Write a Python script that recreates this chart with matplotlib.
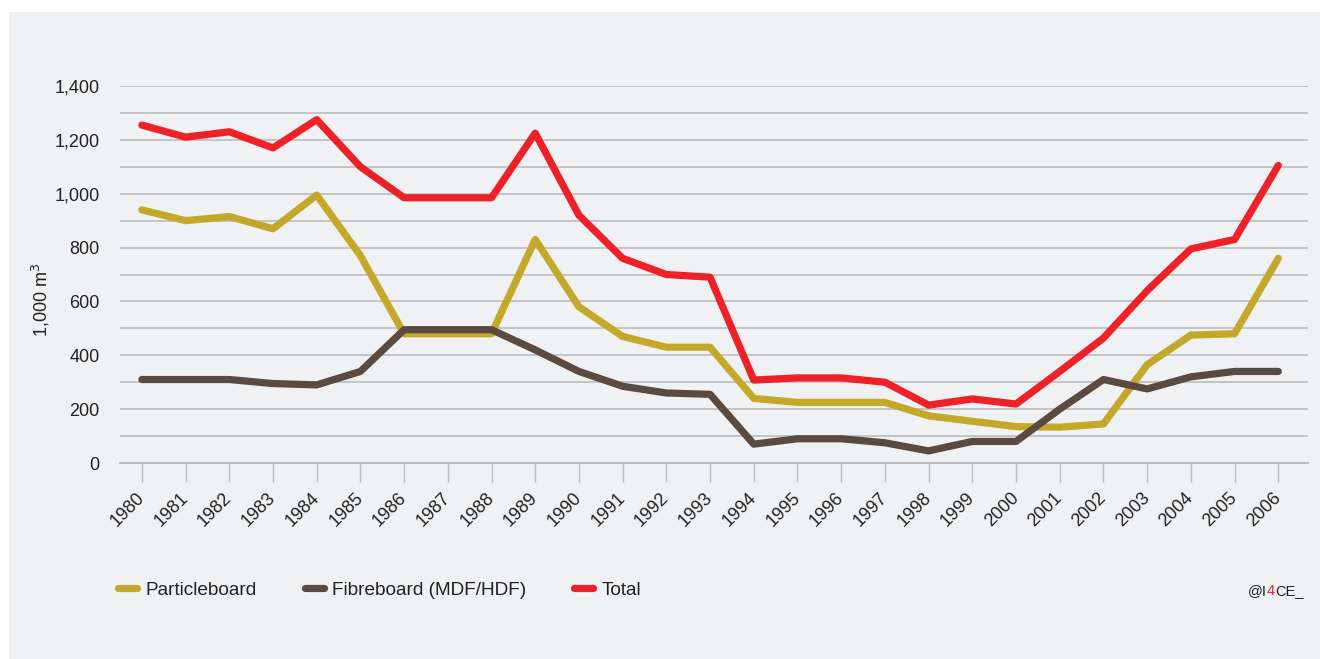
import matplotlib
matplotlib.use("Agg")
import matplotlib.pyplot as plt
import matplotlib.transforms as mtransforms
from matplotlib.patches import Rectangle
from matplotlib.ticker import MultipleLocator, FuncFormatter

plt.rcParams['font.family'] = ['Liberation Sans', 'DejaVu Sans']

years = list(range(1980, 2007))
particleboard = [940, 900, 915, 870, 995, 770, 480, 480, 480, 830, 580, 470, 430, 430,
                 240, 225, 225, 225, 175, 155, 135, 133, 145, 365, 475, 480, 760]
fibreboard = [310, 310, 310, 295, 290, 340, 495, 495, 495, 420, 340, 285, 260, 255,
              70, 90, 90, 75, 45, 80, 80, 200, 310, 275, 320, 340, 340]
total = [1255, 1210, 1230, 1170, 1275, 1100, 985, 985, 985, 1225, 920, 760, 700, 690,
         308, 316, 316, 300, 215, 238, 219, 340, 464, 640, 795, 830, 1105]

c_part = '#c4a82a'
c_fibre = '#5a4a40'
c_total = '#ee2128'
bg = '#f0f1f3'

fig = plt.figure(figsize=(13.2, 6.59), dpi=100)
fig.patch.set_facecolor('white')
fig.patches.append(Rectangle((9 / 1320, 0), 1, 1 - 12 / 659, transform=fig.transFigure,
                             facecolor=bg, edgecolor='none', zorder=-10))

ax = fig.add_axes([120 / 1320, 1 - 463 / 659, (1308 - 120) / 1320, (463 - 86) / 659])
ax.set_facecolor(bg)

lw = 5.2
ax.plot(years, particleboard, color=c_part, lw=lw, solid_joinstyle='round',
        solid_capstyle='round', label='Particleboard', zorder=3)
ax.plot(years, fibreboard, color=c_fibre, lw=lw, solid_joinstyle='round',
        solid_capstyle='round', label='Fibreboard (MDF/HDF)', zorder=3)
ax.plot(years, total, color=c_total, lw=lw, solid_joinstyle='round',
        solid_capstyle='round', label='Total', zorder=3)

ax.set_xlim(1979.5, 2006.68)
ax.set_ylim(0, 1400)
ax.yaxis.set_major_locator(MultipleLocator(200))
ax.yaxis.set_minor_locator(MultipleLocator(100))
ax.yaxis.set_major_formatter(FuncFormatter(lambda v, p: f'{int(v):,}'))
ax.grid(True, which='both', axis='y', color='#bcbcbe', lw=1.2, zorder=1)
ax.set_xticks(years)
ax.set_xticklabels([str(y) for y in years], rotation=45, ha='right', rotation_mode='anchor')

for s in ['top', 'right', 'left']:
    ax.spines[s].set_visible(False)
ax.spines['bottom'].set_color('#bcbcbe')
ax.spines['bottom'].set_linewidth(1.5)
ax.tick_params(axis='y', which='both', length=0, pad=14.5, labelsize=13, labelcolor='#222222')
ax.tick_params(axis='x', length=14, width=1, color='#bcbcbe', pad=2, labelsize=13,
               labelcolor='#222222')
ax.set_axisbelow(True)

# nudge the rotated year labels to sit like the original (after tick_params)
shift = mtransforms.ScaledTranslation(-6 / 100, -4 / 100, fig.dpi_scale_trans)
for lab in ax.get_xticklabels():
    lab.set_transform(lab.get_transform() + shift)

ax.set_ylabel('1,000 m$^3$', fontsize=13, color='#222222')
ax.yaxis.set_label_coords(-0.057, 0.432)

leg = fig.legend(loc='center left', bbox_to_anchor=(101 / 1320, 1 - 590 / 659), ncol=3,
                 frameon=False, fontsize=13.7, handlelength=1.0, handletextpad=0.45,
                 columnspacing=2.5)
for t in leg.get_texts():
    t.set_color('#222222')

fs = 10.5
t1 = fig.text(1248 / 1320, 1 - 591 / 659, '@I', fontsize=fs, color='#222222',
              va='center', ha='left')
a2 = ax.annotate('4', xy=(1, 0), xycoords=t1, va='bottom', ha='left', fontsize=fs,
                 color=c_total, annotation_clip=False)
ax.annotate('CE_', xy=(1, 0), xycoords=a2, va='bottom', ha='left', fontsize=fs,
            color='#222222', annotation_clip=False)

fig.savefig('out.png', dpi=100, facecolor=fig.get_facecolor())
